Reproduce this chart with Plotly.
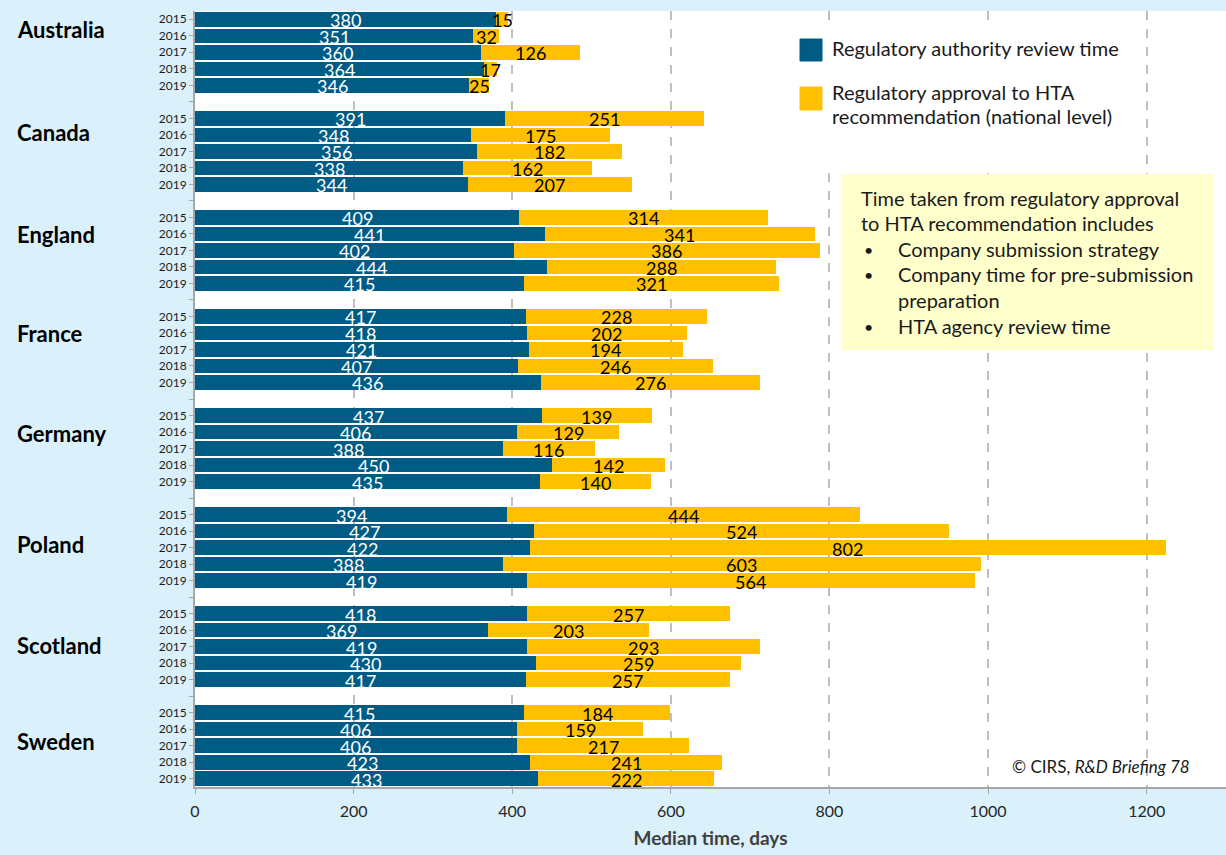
import plotly.graph_objects as go

# median days, 2015-2019 per country
countries = ["Australia", "Canada", "England", "France", "Germany", "Poland", "Scotland", "Sweden"]
years = ["2015", "2016", "2017", "2018", "2019"]

reg_review = {
    "Australia": [380, 351, 360, 364, 346],
    "Canada":    [391, 348, 356, 338, 344],
    "England":   [409, 441, 402, 444, 415],
    "France":    [417, 418, 421, 407, 436],
    "Germany":   [437, 406, 388, 450, 435],
    "Poland":    [394, 427, 422, 388, 419],
    "Scotland":  [418, 369, 419, 430, 417],
    "Sweden":    [415, 406, 406, 423, 433],
}
approval_to_hta = {
    "Australia": [15, 32, 126, 17, 25],
    "Canada":    [251, 175, 182, 162, 207],
    "England":   [314, 341, 386, 288, 321],
    "France":    [228, 202, 194, 246, 276],
    "Germany":   [139, 129, 116, 142, 140],
    "Poland":    [444, 524, 802, 603, 564],
    "Scotland":  [257, 203, 293, 259, 257],
    "Sweden":    [184, 159, 217, 241, 222],
}

x_ticks = [0, 200, 400, 600, 800, 1000, 1200]

legend_names = ["Regulatory authority review time",
                "Regulatory approval to HTA<br>recommendation (national level)"]
note_lines = ["Time taken from regulatory approval",
              "to HTA recommendation includes"]
note_bullets = [["Company submission strategy"],
                ["Company time for pre-submission", "preparation"],
                ["HTA agency review time"]]

BLUE = "#005B85"
YELLOW = "#FFC000"
BG = "#DAF1FC"
FONT = "Lato"
TXT = "#1a1a1a"

# page geometry (pixels) -> paper coords
W, H = 1226, 855
L, R, T, B = 195, 0, 11, 68
def px_x(p):
    return (p - L) / (W - L - R)
def px_y(p):
    return (H - B - p) / (H - T - B)

def label(fig, x, y, text, size, anchor="left", **kw):
    fig.add_annotation(x=px_x(x), y=px_y(y), xref="paper", yref="paper", text=text,
                       showarrow=False, xanchor=anchor, yanchor="middle", align="left",
                       font=dict(size=size, color=kw.pop("color", TXT)), **kw)

# one row per year, one empty row between countries
rows, blue_vals, yellow_vals = [], [], []
for g, c in enumerate(countries):
    for i in range(len(years)):
        rows.append(g * 6 + i)
        blue_vals.append(reg_review[c][i])
        yellow_vals.append(approval_to_hta[c][i])
n_rows = len(countries) * 6 - 1
row_labels = [""] * n_rows
for k, r in enumerate(rows):
    row_labels[r] = years[k % 5]

fig = go.Figure()
fig.add_trace(go.Bar(y=rows, x=blue_vals, orientation="h", width=0.88,
                     marker=dict(color=BLUE, line_width=0), name=legend_names[0],
                     hoverinfo="x"))
fig.add_trace(go.Bar(y=rows, x=yellow_vals, orientation="h", width=0.88,
                     marker=dict(color=YELLOW, line_width=0), name=legend_names[1],
                     hoverinfo="x"))

# value labels centred in each segment (sit a touch low, like the original)
for r, b, v in zip(rows, blue_vals, yellow_vals):
    fig.add_annotation(x=b / 2, y=r, text=str(b), showarrow=False, yshift=-1,
                       font=dict(size=18, color="white"))
    fig.add_annotation(x=b + v / 2, y=r, text=str(v), showarrow=False, yshift=-1,
                       font=dict(size=18, color="black"))

fig.update_layout(
    width=W, height=H,
    margin=dict(l=L, r=R, t=T, b=B),
    paper_bgcolor=BG, plot_bgcolor="white",
    barmode="stack", showlegend=False,
    font=dict(family=FONT, color=TXT),
)
fig.update_xaxes(range=[0, 1300], tickvals=x_ticks, showgrid=True,
                 gridcolor="#BFBFBF", gridwidth=1.5, griddash="dash", zeroline=False,
                 showline=True, linecolor="#A6A6A6", linewidth=2,
                 ticks="outside", ticklen=5, tickcolor="#A6A6A6", ticklabelstandoff=4,
                 tickfont=dict(size=16, color="#262626"),
                 title=dict(text="<b>Median time, days</b>", font=dict(size=19, color="#404040"),
                            standoff=12))
fig.update_yaxes(range=[n_rows - 0.5, -0.5], tickvals=list(range(n_rows)), ticktext=row_labels,
                 showgrid=False, zeroline=False, showline=True, linecolor="#A6A6A6", linewidth=2,
                 ticks="outside", ticklen=4, tickcolor="#A6A6A6",
                 tickfont=dict(size=12, color=TXT))

# country names
country_y_px = [29, 132, 235, 333, 433, 544, 645, 741]
for c, yp in zip(countries, country_y_px):
    label(fig, 15, yp, f"<b>{c}</b>", 22, color="black")

# hand-made legend
fig.add_shape(type="rect", xref="paper", yref="paper", layer="above",
              x0=px_x(790), x1=px_x(1140), y0=px_y(165), y1=px_y(25),
              fillcolor="white", line_width=0)
for color, (y0, y1) in zip([BLUE, YELLOW], [(39, 61), (87, 110)]):
    fig.add_shape(type="rect", xref="paper", yref="paper", layer="above",
                  x0=px_x(800), x1=px_x(822), y0=px_y(y1), y1=px_y(y0),
                  fillcolor=color, line=dict(color=color, width=1))
label(fig, 830, 48, legend_names[0], 20)
for line, yp in zip(legend_names[1].split("<br>"), [92, 116]):
    label(fig, 830, yp, line, 20)

# note box
fig.add_shape(type="rect", xref="paper", yref="paper", layer="above",
              x0=px_x(842), x1=px_x(1213), y0=px_y(350), y1=px_y(174),
              fillcolor="#FFFFCC", line_width=0)
for line, yp in zip(note_lines, [198, 223]):
    label(fig, 859, yp, line, 20)
bullet_y = [[249], [274, 300], [326]]
for lines, ys in zip(note_bullets, bullet_y):
    label(fig, 862, ys[0], "•", 16)
    for line, yp in zip(lines, ys):
        label(fig, 896, yp, line, 20)

label(fig, 1192, 766, "© CIRS, <i>R&amp;D Briefing 78</i>", 17, anchor="right")

fig.write_html("out.html", config={"displayModeBar": False},
               post_script="document.body.style.margin='0';document.body.style.padding='0';")
